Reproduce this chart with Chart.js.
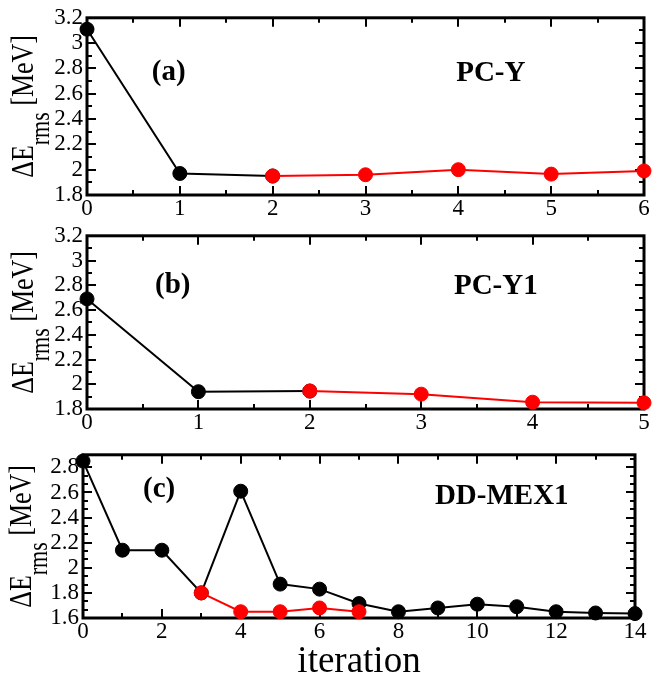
<!DOCTYPE html>
<html>
<head>
<meta charset="utf-8">
<script src="https://cdn.jsdelivr.net/npm/chart.js@4.4.0/dist/chart.umd.min.js"></script>
<style>
  body { margin: 0; background: #fff; }
  #wrap { position: relative; width: 652px; height: 677px; }
  canvas { position: absolute; left: 0; }
</style>
</head>
<body>
<div id="wrap">
  <canvas id="chartA" width="652" height="228" style="top:0px"></canvas>
  <canvas id="chartB" width="652" height="222" style="top:218px"></canvas>
  <canvas id="chartC" width="652" height="240" style="top:437px"></canvas>
</div>
<script>
// panel (a) PC-Y
const itersA = [0, 1, 2, 3, 4, 5, 6];
const blackA = [3.11, 1.97, 1.95, null, null, null, null];
const redA   = [null, null, 1.95, 1.96, 2.00, 1.965, 1.99];

// panel (b) PC-Y1
const itersB = [0, 1, 2, 3, 4, 5];
const blackB = [2.69, 1.94, 1.945, null, null, null];
const redB   = [null, null, 1.945, 1.92, 1.855, 1.85];

// panel (c) DD-MEX1
const itersC = [0, 1, 2, 3, 4, 5, 6, 7, 8, 9, 10, 11, 12, 13, 14];
const blackC = [2.85, 2.14, 2.14, 1.80, 2.61, 1.87, 1.83, 1.715, 1.65, 1.68, 1.71, 1.69, 1.65, 1.64, 1.635];
const redC   = [null, null, null, 1.80, 1.65, 1.65, 1.68, 1.65, null, null, null, null, null, null, null];

const FONT = '"Liberation Serif", "Times New Roman", serif';

function pts(xs, ys) {
  return xs.map((x, i) => ({ x: x, y: ys[i] }));
}

// box around the plot with inward ticks on all four sides
const frameTicks = {
  id: 'frameTicks',
  beforeDatasetsDraw(chart, args, o) {
    const { ctx, chartArea: a, scales: { x, y } } = chart;
    ctx.save();
    ctx.strokeStyle = '#000';
    ctx.lineWidth = 2;
    ctx.beginPath();
    let n = Math.round((x.max - x.min) / o.xMinor);
    for (let i = 0; i <= n; i++) {
      const v = x.min + i * o.xMinor;
      const r = (v - x.min) / o.xMajor;
      const len = Math.abs(r - Math.round(r)) < 1e-6 ? 9 : 5;
      const px = Math.round(x.getPixelForValue(v));
      ctx.moveTo(px, a.bottom); ctx.lineTo(px, a.bottom - len);
      ctx.moveTo(px, a.top); ctx.lineTo(px, a.top + len);
    }
    n = Math.round((y.max - y.min) / o.yMinor);
    for (let i = 0; i <= n; i++) {
      const v = y.min + i * o.yMinor;
      const r = (v - y.min) / o.yMajor;
      const len = Math.abs(r - Math.round(r)) < 1e-6 ? 9 : 5;
      const py = Math.round(y.getPixelForValue(v));
      ctx.moveTo(a.left, py); ctx.lineTo(a.left + len, py);
      ctx.moveTo(a.right, py); ctx.lineTo(a.right - len, py);
    }
    ctx.stroke();
    ctx.lineWidth = 3;
    ctx.strokeRect(a.left, a.top, a.right - a.left, a.bottom - a.top);
    ctx.restore();
  }
};

// panel tag, model name and the y axis title with its subscript
const panelText = {
  id: 'panelText',
  afterDraw(chart, args, o) {
    const { ctx, chartArea: a, scales: { x, y } } = chart;
    ctx.save();
    ctx.fillStyle = '#000';
    ctx.font = 'bold 29px ' + FONT;
    ctx.textAlign = 'center';
    ctx.textBaseline = 'middle';
    ctx.fillText(o.tag, x.getPixelForValue(o.tagAt[0]), y.getPixelForValue(o.tagAt[1]));
    ctx.fillText(o.name, x.getPixelForValue(o.nameAt[0]), y.getPixelForValue(o.nameAt[1]));

    const big = '26px ' + FONT, small = '22px ' + FONT;
    ctx.textAlign = 'left';
    ctx.textBaseline = 'alphabetic';
    ctx.font = big;
    const w1 = ctx.measureText('\u0394E').width;
    const w3 = ctx.measureText(' [MeV]').width;
    ctx.font = small;
    const w2 = ctx.measureText('rms').width;
    ctx.translate(o.titleX, (a.top + a.bottom) / 2);
    ctx.rotate(-Math.PI / 2);
    ctx.scale(1, 1.2);
    let cx = -(w1 + w2 + w3) / 2;
    ctx.font = big;
    ctx.fillText('\u0394E', cx, 0);
    cx += w1;
    ctx.font = small;
    ctx.fillText('rms', cx, 13);
    cx += w2;
    ctx.font = big;
    ctx.fillText(' [MeV]', cx, 0);
    ctx.restore();
  }
};

function buildPanel(id, p) {
  const pointStyle = (color) => ({
    borderColor: color,
    backgroundColor: color,
    pointBackgroundColor: color,
    pointBorderColor: color,
    pointRadius: 7,
    pointHoverRadius: 7,
    pointBorderWidth: 1,
    borderWidth: 2,
    tension: 0,
    clip: false
  });
  return new Chart(document.getElementById(id), {
    type: 'line',
    data: {
      datasets: [
        Object.assign({ data: pts(p.iters, p.red) }, pointStyle('#ff0000')),
        Object.assign({ data: pts(p.iters, p.black) }, pointStyle('#000000'))
      ]
    },
    options: {
      responsive: false,
      animation: false,
      events: [],
      layout: { padding: { top: p.padTop, right: p.padRight, left: 0, bottom: 0 } },
      plugins: {
        legend: { display: false },
        tooltip: { enabled: false },
        frameTicks: { xMajor: p.xStep, xMinor: p.xMinor, yMajor: 0.2, yMinor: p.yMinor },
        panelText: { tag: p.tag, tagAt: p.tagAt, name: p.name, nameAt: p.nameAt, titleX: p.titleX }
      },
      scales: {
        x: {
          type: 'linear',
          min: p.iters[0],
          max: p.iters[p.iters.length - 1],
          afterFit: (s) => { s.height = p.xAxisH; },
          grid: { display: false, drawTicks: false },
          border: { display: false },
          ticks: {
            stepSize: p.xStep, autoSkip: false, maxRotation: 0, padding: 0,
            color: '#000', font: { family: FONT, size: 23 }
          },
          title: p.xTitle ? {
            display: true, text: p.xTitle, color: '#000',
            font: { family: FONT, size: 37 }, padding: { top: 0, bottom: -7 }
          } : { display: false }
        },
        y: {
          type: 'linear',
          min: p.yMin,
          max: p.yMax,
          afterFit: (s) => { s.width = p.yAxisW; },
          grid: { display: false, drawTicks: false },
          border: { display: false },
          ticks: {
            stepSize: 0.2, includeBounds: false, autoSkip: false, padding: 4,
            color: '#000', font: { family: FONT, size: 23 },
            callback: (v) => String(Number(v.toFixed(2)))
          }
        }
      }
    },
    plugins: [frameTicks, panelText]
  });
}

buildPanel('chartA', {
  iters: itersA, black: blackA, red: redA,
  yMin: 1.8, yMax: 3.2, yMinor: 0.1, xStep: 1, xMinor: 0.5,
  padTop: 16, padRight: 8, xAxisH: 33, yAxisW: 87,
  tag: '(a)', tagAt: [0.88, 2.77], name: 'PC-Y', nameAt: [4.35, 2.76], titleX: 33
});

buildPanel('chartB', {
  iters: itersB, black: blackB, red: redB,
  yMin: 1.8, yMax: 3.2, yMinor: 0.1, xStep: 1, xMinor: 0.5,
  padTop: 13, padRight: 7, xAxisH: 31, yAxisW: 87,
  tag: '(b)', tagAt: [0.77, 2.80], name: 'PC-Y1', nameAt: [3.67, 2.79], titleX: 33
});

buildPanel('chartC', {
  iters: itersC, black: blackC, red: redC,
  yMin: 1.6, yMax: 2.9, yMinor: 0.2 / 3, xStep: 2, xMinor: 1,
  padTop: 5, padRight: 17, xAxisH: 59, yAxisW: 83,
  tag: '(c)', tagAt: [1.93, 2.62], name: 'DD-MEX1', nameAt: [10.62, 2.565], titleX: 31,
  xTitle: 'iteration'
});
</script>
</body>
</html>
